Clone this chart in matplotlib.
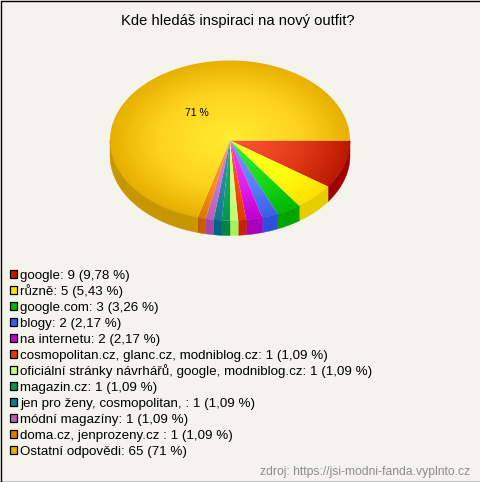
import numpy as np
import matplotlib
matplotlib.use('Agg')
import matplotlib.pyplot as plt
from matplotlib.colors import LinearSegmentedColormap
from matplotlib.patches import Polygon, Rectangle

plt.rcParams['font.family'] = ['Liberation Sans', 'DejaVu Sans']

title = 'Kde hledáš inspiraci na nový outfit?'
source = 'zdroj: https://jsi-modni-fanda.vyplnto.cz'
labels = ['google', 'různě', 'google.com', 'blogy', 'na internetu',
          'cosmopolitan.cz, glanc.cz, modniblog.cz',
          'oficiální stránky návrhářů, google, modniblog.cz',
          'magazin.cz', 'jen pro ženy, cosmopolitan, ',
          'módní magazíny', 'doma.cz, jenprozeny.cz ', 'Ostatní odpovědi']
counts = [9, 5, 3, 2, 2, 1, 1, 1, 1, 1, 1, 65]
shares = ['9,78', '5,43', '3,26', '2,17', '2,17', '1,09', '1,09', '1,09',
          '1,09', '1,09', '1,09', '71']

# light middle -> rim of the top face
tops = [('#fb5a36', '#e23a18', '#bb1a00'), ('#ffff30', '#ffff10', '#ffe000'),
        ('#33ee33', '#18d818', '#00b800'), ('#7098ff', '#5a80f8', '#3a60e8'),
        ('#f040f8', '#e020e8', '#c000d0'), ('#ff5a20', '#f84810', '#e03c00'),
        ('#e0ff90', '#d0ff80', '#c0ff70'), ('#20b870', '#10a860', '#009850'),
        ('#3898b0', '#2888a0', '#107890'), ('#e080e0', '#d070d0', '#b860b8'),
        ('#ffa020', '#f89010', '#e07800'), ('#ffee33', '#ffd21e', '#e6b000')]
walls = ['#a00000', '#e6cd00', '#00a500', '#2d50e0', '#aa00be', '#c82300',
         '#aaf05a', '#008246', '#006482', '#a546a5', '#c85a00', '#c89600']
swatches = ['#c01800', '#ffe000', '#00b800', '#3a60e8', '#c000d0', '#e03c00',
            '#c8ff78', '#009850', '#107890', '#b860b8', '#e07800', '#e6b000']

cx, cy, rx, ry, depth = 230, 140.5, 120, 80, 15

fig = plt.figure(figsize=(4.8, 4.82), dpi=100, facecolor='#f5f4ec')
ax = fig.add_axes([0, 0, 1, 1])
ax.set_axis_off()

yy, xx = np.mgrid[-1:1:400j, -1:1:400j]
dist = np.hypot(xx, yy)

fractions = np.array(counts) / sum(counts)
ends = np.cumsum(fractions) * 2 * np.pi
starts = ends - fractions * 2 * np.pi

# side wall first, only the front half shows
for a, b, col in zip(starts, ends, walls):
    lo, hi = max(a, 0), min(b, np.pi)
    if hi <= lo:
        continue
    t = np.linspace(lo, hi, 80)
    x = cx + rx * np.cos(t)
    y = cy + ry * np.sin(t)
    pts = np.r_[np.c_[x, y], np.c_[x, y + depth][::-1]]
    ax.add_patch(Polygon(pts, closed=True, fc=col, ec=col, lw=0.3))

for a, b, shades in zip(starts, ends, tops):
    t = np.linspace(a, b, 200)
    pts = np.r_[[[cx, cy]], np.c_[cx + rx * np.cos(t), cy + ry * np.sin(t)]]
    patch = Polygon(pts, closed=True, fc='none', ec='none', transform=ax.transData)
    ax.add_patch(patch)
    cmap = LinearSegmentedColormap.from_list(
        'top', [(0, shades[0]), (0.6, shades[1]), (1, shades[2])])
    img = ax.imshow(dist, cmap=cmap, vmin=0, vmax=1, aspect='auto', origin='upper',
                    extent=(cx - rx, cx + rx, cy + ry, cy - ry), interpolation='bilinear')
    img.set_clip_path(patch)

ax.set_xlim(0, 480)
ax.set_ylim(482, 0)

# value label only on the big slice
mid = (starts[-1] + ends[-1]) / 2
ax.text(cx + 0.45 * rx * np.cos(mid), cy + 0.45 * ry * np.sin(mid) + 1.5, '71 %',
        fontsize=7.5, ha='center', va='center', color='black')

ax.text(237.5, 21.5, title, fontsize=10.6, ha='center', va='center', color='black')

for i, (name, n, share, col) in enumerate(zip(labels, counts, shares, swatches)):
    y = 274 + i * 16
    ax.add_patch(Rectangle((9.5, y - 4), 7.5, 7.5, fc=col, ec='black', lw=0.9))
    ax.text(20, y + 1.5, f'{name}: {n} ({share} %)', fontsize=9.62, ha='left', va='center',
            color='black')

ax.text(470, 471.5, source, fontsize=8.7, ha='right', va='center', color='#8c8c8c')

# frame is open on the right
ax.plot([480, 0.5, 0.5, 480], [0.5, 0.5, 481.5, 481.5], color='black', lw=1)

fig.savefig('out.png', dpi=100, facecolor=fig.get_facecolor())
